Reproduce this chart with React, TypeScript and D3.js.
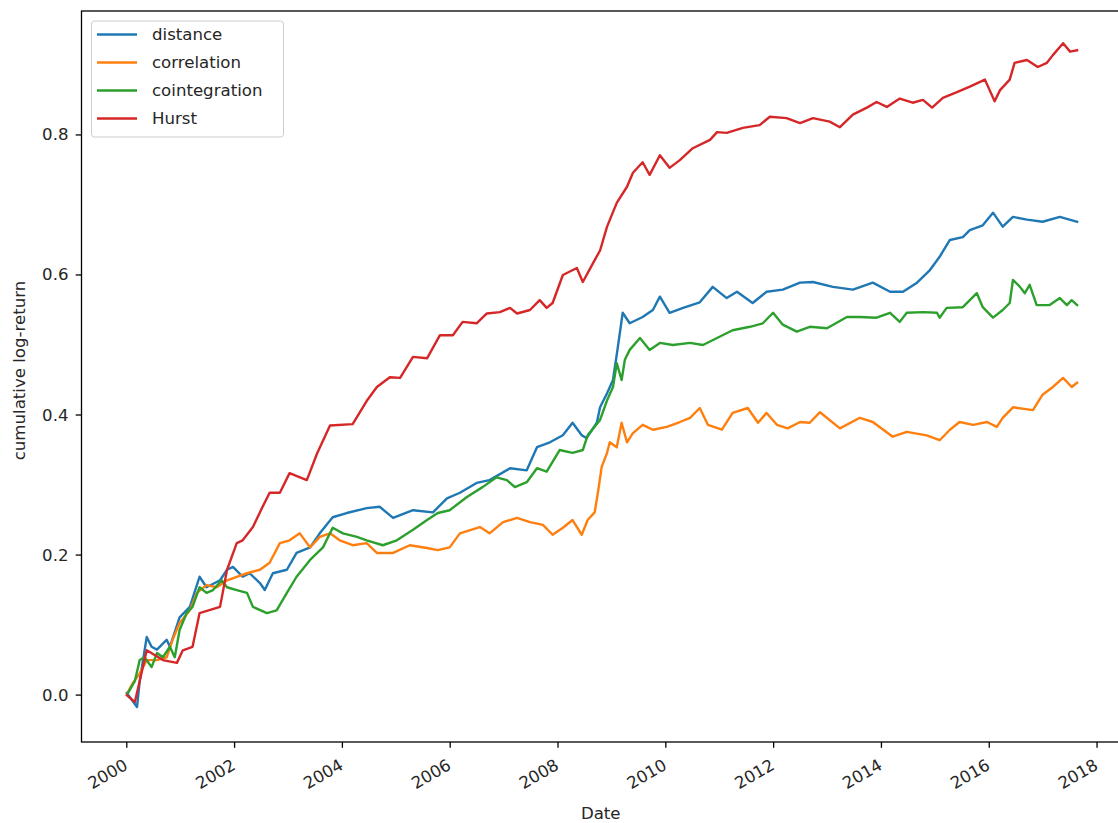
import React from "react";
import * as d3 from "d3";

// [decimal year, cumulative log-return]
const distance: [number, number][] = [
  [2000.0, 0.003], [2000.19, -0.017], [2000.24, 0.02], [2000.37, 0.083], [2000.46, 0.069],
  [2000.56, 0.065], [2000.74, 0.079], [2000.8, 0.069], [2000.98, 0.111], [2001.17, 0.126],
  [2001.35, 0.169], [2001.48, 0.154], [2001.73, 0.164], [2001.86, 0.179], [2001.97, 0.183],
  [2002.15, 0.169], [2002.28, 0.174], [2002.47, 0.16], [2002.56, 0.15], [2002.71, 0.174],
  [2002.97, 0.179], [2003.15, 0.203], [2003.4, 0.211], [2003.58, 0.231], [2003.82, 0.254],
  [2004.08, 0.26], [2004.45, 0.267], [2004.69, 0.269], [2004.94, 0.253], [2005.31, 0.264],
  [2005.68, 0.261], [2005.94, 0.281], [2006.18, 0.289], [2006.49, 0.303], [2006.73, 0.307],
  [2007.11, 0.324], [2007.42, 0.321], [2007.61, 0.354], [2007.85, 0.361], [2008.09, 0.371],
  [2008.27, 0.389], [2008.44, 0.371], [2008.53, 0.367], [2008.72, 0.389], [2008.78, 0.411],
  [2008.91, 0.431], [2009.02, 0.45], [2009.11, 0.497], [2009.2, 0.546], [2009.33, 0.531],
  [2009.57, 0.54], [2009.76, 0.55], [2009.89, 0.569], [2010.07, 0.546], [2010.32, 0.553],
  [2010.63, 0.561], [2010.87, 0.583], [2011.13, 0.567], [2011.32, 0.576], [2011.61, 0.56],
  [2011.87, 0.576], [2012.17, 0.579], [2012.49, 0.589], [2012.73, 0.59], [2013.1, 0.583],
  [2013.47, 0.579], [2013.84, 0.589], [2014.16, 0.576], [2014.4, 0.576], [2014.66, 0.589],
  [2014.9, 0.607], [2015.08, 0.626], [2015.27, 0.65], [2015.51, 0.654], [2015.64, 0.664],
  [2015.88, 0.671], [2016.07, 0.689], [2016.25, 0.669], [2016.44, 0.683], [2016.7, 0.679],
  [2016.99, 0.676], [2017.31, 0.683], [2017.63, 0.676],
];

const correlation: [number, number][] = [
  [2000.02, 0.004], [2000.11, 0.017], [2000.24, 0.031], [2000.37, 0.05], [2000.56, 0.05],
  [2000.74, 0.054], [2000.85, 0.079], [2000.98, 0.103], [2001.17, 0.121], [2001.3, 0.146],
  [2001.48, 0.157], [2001.67, 0.154], [2001.86, 0.164], [2002.04, 0.169], [2002.23, 0.174],
  [2002.47, 0.179], [2002.65, 0.189], [2002.84, 0.217], [2003.02, 0.221], [2003.21, 0.231],
  [2003.4, 0.211], [2003.58, 0.226], [2003.77, 0.231], [2003.95, 0.221], [2004.19, 0.214],
  [2004.45, 0.217], [2004.64, 0.203], [2004.94, 0.203], [2005.25, 0.214], [2005.57, 0.21],
  [2005.77, 0.207], [2005.99, 0.211], [2006.18, 0.231], [2006.55, 0.24], [2006.73, 0.231],
  [2006.98, 0.247], [2007.24, 0.253], [2007.48, 0.247], [2007.72, 0.243], [2007.9, 0.229],
  [2008.09, 0.239], [2008.27, 0.25], [2008.44, 0.229], [2008.55, 0.25], [2008.68, 0.261],
  [2008.74, 0.289], [2008.81, 0.326], [2008.91, 0.346], [2008.96, 0.361], [2009.09, 0.354],
  [2009.18, 0.389], [2009.28, 0.361], [2009.39, 0.374], [2009.57, 0.386], [2009.76, 0.379],
  [2010.02, 0.383], [2010.26, 0.39], [2010.45, 0.396], [2010.63, 0.41], [2010.78, 0.386],
  [2011.04, 0.379], [2011.24, 0.403], [2011.52, 0.41], [2011.71, 0.389], [2011.87, 0.403],
  [2012.06, 0.386], [2012.26, 0.381], [2012.49, 0.39], [2012.67, 0.389], [2012.86, 0.404],
  [2013.23, 0.381], [2013.6, 0.396], [2013.84, 0.39], [2014.21, 0.369], [2014.47, 0.376],
  [2014.84, 0.371], [2015.08, 0.364], [2015.27, 0.379], [2015.45, 0.39], [2015.7, 0.386],
  [2015.96, 0.39], [2016.14, 0.383], [2016.25, 0.396], [2016.44, 0.411], [2016.81, 0.407],
  [2016.99, 0.429], [2017.18, 0.44], [2017.37, 0.453], [2017.53, 0.44], [2017.63, 0.446],
];

const cointegration: [number, number][] = [
  [2000.02, 0.003], [2000.15, 0.02], [2000.24, 0.05], [2000.33, 0.054], [2000.46, 0.04],
  [2000.56, 0.06], [2000.67, 0.054], [2000.8, 0.069], [2000.89, 0.054], [2000.98, 0.093],
  [2001.11, 0.117], [2001.22, 0.126], [2001.35, 0.154], [2001.48, 0.146], [2001.6, 0.15],
  [2001.76, 0.164], [2001.86, 0.154], [2002.04, 0.15], [2002.23, 0.146], [2002.34, 0.126],
  [2002.6, 0.117], [2002.78, 0.121], [2002.97, 0.146], [2003.15, 0.169], [2003.4, 0.193],
  [2003.64, 0.211], [2003.82, 0.239], [2004.01, 0.231], [2004.27, 0.226], [2004.45, 0.221],
  [2004.75, 0.214], [2005.01, 0.221], [2005.31, 0.236], [2005.57, 0.25], [2005.77, 0.26],
  [2005.99, 0.264], [2006.31, 0.283], [2006.6, 0.297], [2006.86, 0.311], [2007.05, 0.307],
  [2007.2, 0.297], [2007.42, 0.304], [2007.61, 0.324], [2007.79, 0.319], [2008.03, 0.35],
  [2008.27, 0.346], [2008.46, 0.35], [2008.55, 0.371], [2008.78, 0.393], [2008.91, 0.421],
  [2009.02, 0.44], [2009.09, 0.474], [2009.18, 0.45], [2009.24, 0.479], [2009.33, 0.493],
  [2009.52, 0.51], [2009.7, 0.493], [2009.89, 0.503], [2010.13, 0.5], [2010.45, 0.503],
  [2010.69, 0.5], [2010.95, 0.51], [2011.24, 0.521], [2011.56, 0.526], [2011.8, 0.531],
  [2011.99, 0.546], [2012.17, 0.529], [2012.43, 0.519], [2012.67, 0.526], [2012.99, 0.524],
  [2013.36, 0.54], [2013.6, 0.54], [2013.91, 0.539], [2014.16, 0.546], [2014.34, 0.533],
  [2014.47, 0.546], [2014.77, 0.547], [2015.03, 0.546], [2015.08, 0.539], [2015.21, 0.553],
  [2015.51, 0.554], [2015.77, 0.574], [2015.88, 0.554], [2016.07, 0.539], [2016.25, 0.55],
  [2016.38, 0.56], [2016.44, 0.593], [2016.57, 0.583], [2016.66, 0.574], [2016.75, 0.586],
  [2016.88, 0.557], [2017.12, 0.557], [2017.31, 0.567], [2017.44, 0.557], [2017.53, 0.564],
  [2017.63, 0.557],
];

const hurst: [number, number][] = [
  [2000.0, 0.0], [2000.15, -0.01], [2000.24, 0.02], [2000.37, 0.064], [2000.67, 0.05],
  [2000.93, 0.046], [2001.04, 0.064], [2001.22, 0.069], [2001.35, 0.117], [2001.73, 0.126],
  [2001.86, 0.179], [2002.04, 0.217], [2002.15, 0.221], [2002.34, 0.24], [2002.52, 0.269],
  [2002.65, 0.289], [2002.84, 0.289], [2003.02, 0.317], [2003.34, 0.307], [2003.53, 0.345],
  [2003.77, 0.385], [2004.19, 0.387], [2004.45, 0.42], [2004.64, 0.44], [2004.88, 0.454],
  [2005.07, 0.453], [2005.31, 0.483], [2005.57, 0.481], [2005.81, 0.514], [2006.05, 0.514],
  [2006.23, 0.533], [2006.49, 0.531], [2006.68, 0.545], [2006.92, 0.547], [2007.11, 0.553],
  [2007.24, 0.545], [2007.48, 0.55], [2007.66, 0.564], [2007.79, 0.553], [2007.9, 0.56],
  [2008.09, 0.6], [2008.35, 0.61], [2008.46, 0.59], [2008.65, 0.617], [2008.78, 0.635],
  [2008.91, 0.669], [2009.09, 0.703], [2009.28, 0.726], [2009.39, 0.746], [2009.57, 0.761],
  [2009.7, 0.743], [2009.89, 0.771], [2010.07, 0.753], [2010.26, 0.764], [2010.5, 0.781],
  [2010.82, 0.793], [2010.95, 0.804], [2011.13, 0.803], [2011.43, 0.81], [2011.74, 0.814],
  [2011.93, 0.826], [2012.24, 0.824], [2012.49, 0.817], [2012.73, 0.824], [2013.04, 0.819],
  [2013.23, 0.811], [2013.47, 0.829], [2013.73, 0.839], [2013.91, 0.847], [2014.1, 0.84],
  [2014.34, 0.852], [2014.58, 0.846], [2014.77, 0.85], [2014.94, 0.839], [2015.14, 0.853],
  [2015.4, 0.861], [2015.64, 0.869], [2015.92, 0.879], [2016.1, 0.848], [2016.2, 0.864],
  [2016.38, 0.879], [2016.47, 0.903], [2016.7, 0.907], [2016.9, 0.897], [2017.07, 0.903],
  [2017.18, 0.914], [2017.37, 0.931], [2017.5, 0.919], [2017.63, 0.921],
];

const seriesNames = ["distance", "correlation", "cointegration", "Hurst"];
const seriesColors = ["#1f77b4", "#ff7f0e", "#2ca02c", "#d62728"];
const seriesData = [distance, correlation, cointegration, hurst];

const xTicks = [2000, 2002, 2004, 2006, 2008, 2010, 2012, 2014, 2016, 2018];
const yTicks = [0.0, 0.2, 0.4, 0.6, 0.8];

const W = 1118;
const H = 823;
const left = 81.5;
const right = 1124;
const top = 11;
const bottom = 742;
const FONT = "'DejaVu Sans', sans-serif";
const FS = 16.6;

export default function App() {
  const x = d3.scaleLinear().domain([1999.16, 2018.5]).range([left, right]);
  const y = d3.scaleLinear().domain([-0.067, 0.977]).range([bottom, top]);
  const line = d3
    .line<[number, number]>()
    .x((d) => x(d[0]))
    .y((d) => y(d[1]));

  return (
    <svg
      width={W}
      height={H}
      style={{ position: "absolute", left: 0, top: 0, background: "#fff" }}
      fontFamily={FONT}
    >
      <rect x={0} y={0} width={W} height={H} fill="#fff" />
      {seriesData.map((d, i) => (
        <path
          key={seriesNames[i]}
          d={line(d) || ""}
          fill="none"
          stroke={seriesColors[i]}
          strokeWidth={2.4}
          strokeLinejoin="round"
          strokeLinecap="square"
        />
      ))}
      {/* spines */}
      <rect
        x={left}
        y={top}
        width={right - left}
        height={bottom - top}
        fill="none"
        stroke="#000"
        strokeWidth={1.3}
      />
      {/* y ticks */}
      {yTicks.map((t) => (
        <g key={"y" + t} transform={`translate(0,${y(t)})`}>
          <line x1={left - 5.8} x2={left} stroke="#000" strokeWidth={1.3} />
          <text
            x={left - 13}
            textAnchor="end"
            dominantBaseline="central"
            fontSize={FS}
            fill="#262626"
          >
            {t.toFixed(1)}
          </text>
        </g>
      ))}
      {/* x ticks */}
      {xTicks.map((t) => (
        <g key={"x" + t}>
          <line
            x1={x(t)}
            x2={x(t)}
            y1={bottom}
            y2={bottom + 5.8}
            stroke="#000"
            strokeWidth={1.3}
          />
          <text
            transform={`translate(${x(t) - 4},${bottom + 16}) rotate(-30)`}
            textAnchor="end"
            dominantBaseline="hanging"
            fontSize={FS}
            fill="#262626"
          >
            {t}
          </text>
        </g>
      ))}
      {/* axis labels */}
      <text
        x={(left + right) / 2 - 2}
        y={819}
        textAnchor="middle"
        fontSize={FS}
        fill="#262626"
      >
        Date
      </text>
      <text
        transform={`translate(25,${(top + bottom) / 2 - 6}) rotate(-90)`}
        textAnchor="middle"
        fontSize={FS}
        fill="#262626"
      >
        cumulative log-return
      </text>
      {/* legend */}
      <rect
        x={91.5}
        y={21}
        width={192}
        height={116}
        rx={3}
        ry={3}
        fill="#fff"
        fillOpacity={0.8}
        stroke="#cccccc"
        strokeWidth={1}
      />
      {seriesNames.map((n, i) => (
        <g key={"lg" + n} transform={`translate(0,${34.5 + i * 28})`}>
          <line x1={97} x2={137} stroke={seriesColors[i]} strokeWidth={2.4} />
          <text
            x={152}
            dominantBaseline="central"
            fontSize={FS}
            fill="#262626"
          >
            {n}
          </text>
        </g>
      ))}
    </svg>
  );
}
